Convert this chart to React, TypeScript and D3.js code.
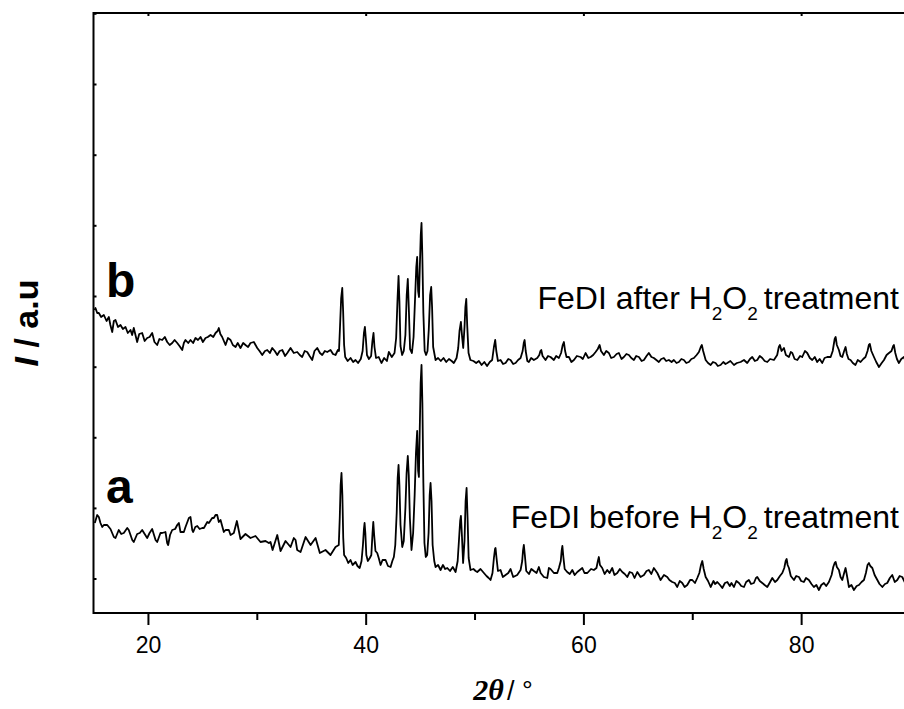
import { useEffect, useRef } from 'react'
import * as d3 from 'd3'

const W = 904
const H = 709
const SANS = 'Liberation Sans, Arial, Helvetica, sans-serif'
const SERIF = 'Liberation Serif, Times New Roman, serif'

// sample a: FeDI before H2O2 treatment (2θ in degrees, intensity in a.u.)
const angleA = [
  15.12, 15.34, 15.49, 15.64, 15.8, 15.95, 16.26, 16.56, 16.87, 17.02, 17.32, 17.55, 17.78, 18.1, 18.24,
  18.56, 18.7, 19.01, 19.25, 19.47, 19.7, 19.93, 20.15, 20.39, 20.7, 20.85, 21.15, 21.31, 21.61, 21.77,
  21.86, 22.03, 22.23, 22.5, 22.69, 22.84, 22.99, 23.3, 23.45, 23.76, 23.91, 24.07, 24.16, 24.35, 24.53,
  24.75, 24.99, 25.14, 25.45, 25.6, 25.9, 26.05, 26.21, 26.36, 26.51, 26.67, 26.97, 27.13, 27.43, 27.59,
  27.89, 28.17, 28.5, 28.96, 29.42, 29.88, 30.34, 30.8, 31.1, 31.26, 31.45, 31.88, 32.18, 32.64, 33.1,
  33.4, 33.56, 33.71, 34.02, 34.48, 34.94, 35.4, 35.79, 36.31, 36.77, 37.23, 37.53, 37.62, 37.7, 37.78,
  37.86, 37.94, 38.02, 38.21, 38.4, 38.61, 38.8, 39.07, 39.25, 39.45, 39.62, 39.75, 39.84, 39.9, 39.97,
  40.06, 40.2, 40.38, 40.52, 40.63, 40.7, 40.78, 40.9, 41.06, 41.2, 41.37, 41.55, 41.83, 42.05, 42.29,
  42.45, 42.59, 42.72, 42.85, 42.94, 43.02, 43.1, 43.2, 43.36, 43.5, 43.65, 43.76, 43.87, 43.96, 44.06,
  44.21, 44.36, 44.5, 44.62, 44.73, 44.82, 44.89, 44.97, 45.05, 45.13, 45.21, 45.3, 45.4, 45.52, 45.65,
  45.78, 45.88, 45.96, 46.05, 46.15, 46.3, 46.42, 46.65, 46.88, 47.1, 47.3, 47.5, 47.75, 48.0, 48.26,
  48.45, 48.6, 48.68, 48.75, 48.84, 48.95, 49.08, 49.18, 49.27, 49.36, 49.46, 49.63, 49.9, 50.1, 50.25,
  50.55, 50.86, 51.1, 51.3, 51.47, 51.65, 51.78, 51.88, 51.93, 52.02, 52.15, 52.39, 52.6, 52.85, 53.1,
  53.31, 53.55, 53.92, 54.23, 54.38, 54.45, 54.53, 54.62, 54.75, 55.0, 55.22, 55.45, 55.7, 55.91, 56.07,
  56.37, 56.68, 56.83, 56.98, 57.29, 57.6, 57.75, 57.92, 58.0, 58.07, 58.16, 58.28, 58.51, 58.75, 58.98,
  59.2, 59.44, 59.9, 60.1, 60.36, 60.7, 60.96, 61.2, 61.33, 61.42, 61.52, 61.73, 61.95, 62.19, 62.4,
  62.65, 62.85, 63.11, 63.35, 63.57, 63.8, 64.03, 64.25, 64.49, 64.7, 64.95, 65.25, 65.56, 65.8, 66.01,
  66.24, 66.47, 66.79, 67.09, 67.4, 67.7, 67.9, 68.16, 68.4, 68.62, 68.85, 69.08, 69.3, 69.54, 69.8,
  70.0, 70.25, 70.46, 70.65, 70.8, 70.92, 71.05, 71.23, 71.45, 71.69, 71.95, 72.1, 72.3, 72.55, 72.76,
  73.0, 73.22, 73.45, 73.6, 73.83, 74.05, 74.29, 74.5, 74.75, 74.95, 75.2, 75.4, 75.66, 75.85, 75.97,
  76.2, 76.43, 76.65, 76.89, 77.1, 77.35, 77.6, 77.81, 78.05, 78.27, 78.45, 78.58, 78.67, 78.76, 78.88,
  79.05, 79.34, 79.55, 79.8, 80.0, 80.25, 80.45, 80.71, 80.95, 81.17, 81.4, 81.63, 81.85, 82.09, 82.3,
  82.55, 82.8, 82.95, 83.08, 83.17, 83.28, 83.47, 83.62, 83.78, 83.95, 84.08, 84.2, 84.39, 84.62, 84.85,
  85.1, 85.31, 85.55, 85.77, 85.95, 86.1, 86.23, 86.35, 86.54, 86.75, 87.0, 87.2, 87.46, 87.7, 87.91,
  88.15, 88.37, 88.6, 88.83, 89.05, 89.29, 89.55, 89.8, 90.0,
]
const intensA = [
  90, 98, 96, 90, 86, 88, 88, 84, 76, 75, 83, 79, 80, 85, 83,
  73, 71, 79, 80, 83, 79, 75, 80, 84, 73, 71, 80, 80, 81, 70,
  68, 78, 83, 84, 88, 90, 81, 81, 86, 95, 96, 83, 81, 86, 87,
  84, 85, 85, 91, 90, 95, 95, 98, 98, 91, 93, 81, 83, 83, 78,
  80, 92, 74, 79, 75, 77, 71, 72, 70, 71, 63, 78, 62, 72, 66,
  75, 73, 63, 61, 76, 68, 75, 60, 63, 58, 66, 68, 95, 128, 140,
  118, 75, 58, 55, 50, 53, 48, 51, 47, 45, 52, 68, 84, 90, 80,
  58, 52, 55, 58, 80, 91, 78, 62, 60, 55, 48, 53, 53, 47, 46,
  52, 56, 68, 100, 135, 148, 128, 88, 66, 72, 105, 140, 157, 138, 95,
  63, 80, 118, 160, 182, 142, 136, 185, 230, 248, 210, 130, 70, 56, 58,
  80, 118, 130, 112, 68, 52, 46, 48, 43, 48, 44, 45, 42, 46, 41,
  52, 78, 92, 97, 78, 50, 72, 112, 125, 95, 55, 43, 44, 42, 41,
  44, 40, 37, 35, 33, 40, 55, 64, 65, 55, 42, 43, 36, 38, 40,
  44, 36, 38, 43, 52, 62, 68, 58, 42, 39, 44, 42, 40, 46, 40,
  36, 35, 45, 44, 40, 40, 45, 52, 62, 67, 56, 44, 41, 39, 43,
  38, 41, 45, 40, 40, 44, 43, 45, 52, 56, 48, 45, 39, 43, 40,
  45, 38, 40, 44, 41, 39, 36, 41, 40, 35, 41, 36, 38, 42, 43,
  39, 45, 40, 33, 38, 36, 33, 31, 30, 26, 32, 30, 26, 28, 33,
  33, 30, 35, 40, 48, 52, 44, 36, 32, 26, 32, 29, 31, 28, 25,
  30, 31, 27, 30, 26, 32, 30, 27, 26, 31, 33, 29, 30, 35, 36,
  32, 30, 28, 26, 30, 35, 31, 33, 37, 40, 45, 52, 54, 48, 45,
  37, 33, 37, 36, 32, 31, 35, 33, 29, 26, 28, 23, 28, 30, 27,
  31, 38, 46, 50, 51, 46, 43, 36, 33, 40, 45, 38, 26, 28, 23,
  27, 28, 31, 33, 40, 48, 50, 47, 45, 38, 33, 29, 26, 29, 30,
  35, 38, 31, 33, 37, 36, 30, 33, 35,
]

// sample b: FeDI after H2O2 treatment
const angleB = [
  15.1, 15.18, 15.34, 15.49, 15.7, 15.95, 16.2, 16.41, 16.55, 16.72, 16.87, 17.02, 17.25, 17.48, 17.7,
  17.94, 18.15, 18.4, 18.55, 18.7, 19.01, 19.2, 19.47, 19.7, 19.93, 20.15, 20.39, 20.6, 20.85, 21.05,
  21.31, 21.55, 21.77, 22.0, 22.23, 22.45, 22.69, 22.9, 23.15, 23.3, 23.45, 23.7, 23.91, 24.15, 24.37,
  24.6, 24.83, 25.05, 25.29, 25.5, 25.75, 26.0, 26.21, 26.4, 26.51, 26.65, 26.82, 27.13, 27.35, 27.59,
  27.8, 28.05, 28.25, 28.5, 28.75, 28.96, 29.2, 29.42, 29.73, 30.04, 30.25, 30.5, 30.75, 30.96, 31.2,
  31.42, 31.65, 31.88, 32.1, 32.34, 32.6, 32.8, 33.1, 33.4, 33.71, 33.95, 34.17, 34.4, 34.63, 34.85,
  35.09, 35.3, 35.55, 35.8, 36.01, 36.25, 36.47, 36.77, 37.0, 37.23, 37.45, 37.55, 37.65, 37.75, 37.85,
  37.93, 38.02, 38.12, 38.35, 38.61, 38.85, 39.07, 39.3, 39.55, 39.72, 39.84, 39.93, 40.02, 40.12, 40.3,
  40.5, 40.62, 40.72, 40.81, 40.95, 41.2, 41.45, 41.7, 41.95, 42.13, 42.4, 42.65, 42.8, 42.93, 43.02,
  43.1, 43.2, 43.35, 43.5, 43.65, 43.77, 43.87, 43.96, 44.08, 44.25, 44.4, 44.55, 44.65, 44.73, 44.82,
  44.9, 44.98, 45.06, 45.13, 45.2, 45.3, 45.42, 45.55, 45.68, 45.8, 45.92, 46.02, 46.1, 46.2, 46.42,
  46.65, 46.9, 47.15, 47.4, 47.65, 47.9, 48.1, 48.35, 48.5, 48.62, 48.75, 48.86, 48.96, 49.08, 49.16,
  49.24, 49.33, 49.45, 49.62, 49.9, 50.15, 50.4, 50.65, 50.9, 51.15, 51.4, 51.62, 51.78, 51.9, 52.0,
  52.15, 52.39, 52.62, 52.85, 53.1, 53.31, 53.55, 53.77, 54.0, 54.23, 54.42, 54.52, 54.6, 54.7, 54.85,
  54.99, 55.2, 55.45, 55.76, 55.95, 56.05, 56.13, 56.25, 56.52, 56.75, 56.98, 57.29, 57.5, 57.75, 57.95,
  58.1, 58.21, 58.32, 58.45, 58.67, 58.9, 59.13, 59.4, 59.74, 59.95, 60.2, 60.45, 60.66, 60.9, 61.12,
  61.32, 61.49, 61.62, 61.88, 62.1, 62.34, 62.55, 62.8, 63.05, 63.26, 63.5, 63.72, 63.95, 64.18, 64.4,
  64.64, 64.85, 65.1, 65.35, 65.56, 65.8, 66.01, 66.25, 66.47, 66.7, 66.93, 67.15, 67.39, 67.6, 67.85,
  68.1, 68.31, 68.55, 68.77, 69.0, 69.23, 69.45, 69.69, 69.92, 70.15, 70.4, 70.61, 70.78, 70.88, 71.0,
  71.23, 71.45, 71.69, 71.9, 72.14, 72.35, 72.6, 72.85, 73.05, 73.22, 73.5, 73.83, 74.1, 74.44, 74.75,
  75.05, 75.3, 75.51, 75.75, 75.97, 76.2, 76.43, 76.65, 76.89, 77.15, 77.5, 77.8, 77.95, 78.05, 78.2,
  78.42, 78.6, 78.88, 79.05, 79.19, 79.4, 79.65, 79.9, 80.1, 80.35, 80.56, 80.8, 81.02, 81.25, 81.48,
  81.7, 81.94, 82.15, 82.4, 82.71, 82.9, 83.08, 83.17, 83.28, 83.47, 83.62, 83.78, 83.95, 84.08, 84.2,
  84.35, 84.54, 84.75, 84.99, 85.2, 85.46, 85.7, 85.91, 86.1, 86.22, 86.31, 86.45, 86.69, 86.9, 87.15,
  87.4, 87.61, 87.85, 88.07, 88.3, 88.45, 88.52, 88.65, 88.8, 88.98, 89.2, 89.44, 89.65, 89.85, 90.0,
]
const intensB = [
  303, 305, 300, 300, 296, 298, 292, 296, 288, 281, 292, 293, 286, 288, 284,
  286, 280, 283, 278, 285, 271, 279, 280, 272, 275, 276, 280, 271, 268, 274,
  273, 276, 271, 268, 270, 273, 270, 267, 263, 270, 273, 270, 273, 270, 275,
  273, 276, 271, 275, 276, 278, 276, 280, 282, 285, 279, 276, 268, 275, 273,
  268, 266, 270, 265, 270, 268, 266, 270, 271, 265, 262, 258, 262, 263, 260,
  265, 262, 258, 262, 263, 257, 260, 265, 260, 261, 258, 256, 262, 261, 257,
  253, 262, 265, 260, 258, 262, 261, 263, 259, 258, 263, 262, 288, 315, 325,
  302, 268, 256, 252, 255, 251, 253, 250, 254, 262, 280, 286, 274, 258, 254,
  257, 272, 280, 266, 255, 256, 250, 255, 252, 261, 256, 260, 275, 315, 337,
  312, 267, 258, 262, 278, 318, 334, 306, 264, 260, 276, 318, 346, 356, 322,
  316, 348, 378, 390, 360, 300, 262, 258, 262, 284, 318, 326, 306, 266, 253,
  255, 252, 255, 251, 254, 252, 250, 255, 265, 282, 291, 276, 265, 286, 306,
  314, 287, 260, 253, 252, 250, 252, 248, 251, 247, 251, 253, 266, 273, 262,
  252, 253, 249, 250, 254, 253, 249, 250, 253, 255, 262, 270, 273, 262, 252,
  251, 255, 253, 255, 258, 262, 263, 257, 253, 257, 256, 253, 257, 255, 260,
  268, 271, 262, 256, 256, 251, 253, 257, 256, 254, 260, 255, 256, 258, 261,
  264, 268, 262, 258, 262, 260, 255, 256, 259, 260, 254, 256, 259, 258, 255,
  253, 257, 256, 252, 253, 257, 260, 256, 255, 253, 251, 254, 255, 252, 253,
  251, 253, 250, 251, 254, 253, 250, 251, 254, 255, 258, 261, 266, 268, 262,
  253, 250, 248, 251, 250, 247, 248, 251, 249, 250, 252, 248, 250, 251, 253,
  250, 254, 256, 252, 253, 257, 255, 252, 251, 254, 253, 258, 266, 268, 262,
  265, 258, 256, 261, 260, 254, 253, 257, 256, 262, 260, 255, 253, 256, 251,
  254, 250, 255, 256, 256, 262, 274, 276, 268, 263, 257, 256, 262, 266, 259,
  254, 253, 250, 248, 253, 251, 254, 256, 262, 268, 269, 262, 256, 251, 246,
  250, 253, 258, 260, 262, 267, 268, 260, 254, 250, 254, 256, 250, 247, 255,
]

const xMajorTicks = [20, 40, 60, 80]
const xMinorTicks = [30, 50, 70]
const yTicks = [34.5, 105.1, 175.7, 246.3, 317, 387.7, 458.3, 529, 599.7]

export default function App() {
  const svgRef = useRef(null)

  useEffect(() => {
    if (!svgRef.current) return
    const svg = d3.select(svgRef.current)
    svg.selectAll('*').remove()

    const x = d3.scaleLinear().domain([15, 90]).range([93.5, 910])
    const y = d3.scaleLinear().domain([0, 600]).range([613, 13])

    const line = d3.line()
      .x(d => x(d[0]))
      .y(d => y(d[1]))

    const series = [
      d3.zip(angleA, intensA),
      d3.zip(angleB, intensB),
    ]

    // Traces
    series.forEach(s => {
      svg.append('path')
        .datum(s)
        .attr('d', line)
        .attr('fill', 'none')
        .attr('stroke', '#000')
        .attr('stroke-width', 1.8)
        .attr('stroke-linejoin', 'round')
    })

    // Frame (right edge falls outside the picture)
    svg.append('rect')
      .attr('x', x.range()[0]).attr('y', y.range()[1])
      .attr('width', x.range()[1] - x.range()[0])
      .attr('height', y.range()[0] - y.range()[1])
      .attr('fill', 'none')
      .attr('stroke', '#000')
      .attr('stroke-width', 2)

    const styleAxis = ax => {
      ax.select('.domain').remove()
      ax.selectAll('.tick line').attr('stroke', '#000').attr('stroke-width', 2)
    }

    // Bottom axis, major ticks with labels
    svg.append('g')
      .attr('transform', `translate(0,${y.range()[0]})`)
      .call(d3.axisBottom(x).tickValues(xMajorTicks).tickSize(12).tickPadding(12).tickFormat(d3.format('d')))
      .call(styleAxis)
      .call(ax => ax.selectAll('text')
        .attr('fill', '#000')
        .attr('font-family', SANS)
        .attr('font-size', '23px'))

    // Bottom axis, minor ticks
    svg.append('g')
      .attr('transform', `translate(0,${y.range()[0]})`)
      .call(d3.axisBottom(x).tickValues(xMinorTicks).tickSize(7).tickFormat(() => ''))
      .call(styleAxis)

    // Top axis, small inward ticks
    svg.append('g')
      .attr('transform', `translate(0,${y.range()[1]})`)
      .call(d3.axisTop(x).tickValues(xMajorTicks).tickSize(-3).tickFormat(() => ''))
      .call(styleAxis)

    // Left axis, inward ticks, no labels
    svg.append('g')
      .attr('transform', `translate(${x.range()[0]},0)`)
      .call(d3.axisLeft(y).tickValues(yTicks).tickSize(-3).tickFormat(() => ''))
      .call(styleAxis)

    // X title
    const xt = svg.append('text')
      .attr('x', 503).attr('y', 700)
      .attr('text-anchor', 'middle')
      .attr('fill', '#000')
    xt.append('tspan')
      .attr('font-family', SERIF)
      .attr('font-style', 'italic')
      .attr('font-weight', 'bold')
      .attr('font-size', '30px')
      .text('2θ')
    xt.append('tspan')
      .attr('dx', 3)
      .attr('font-family', SANS)
      .attr('font-size', '27px')
      .text('/ °')

    // Y title
    const yt = svg.append('text')
      .attr('transform', 'translate(38,323) rotate(-90)')
      .attr('text-anchor', 'middle')
      .attr('font-family', SANS)
      .attr('font-weight', 'bold')
      .attr('font-size', '34px')
      .attr('fill', '#000')
    yt.append('tspan').attr('font-style', 'italic').text('I')
    yt.append('tspan').text(' / a.u')

    // Sample letters
    const letters = [
      { t: 'b', px: 106, py: 297 },
      { t: 'a', px: 106, py: 503 },
    ]
    letters.forEach(l => {
      svg.append('text')
        .attr('x', l.px).attr('y', l.py)
        .attr('font-family', SANS)
        .attr('font-weight', 'bold')
        .attr('font-size', '48px')
        .attr('fill', '#000')
        .text(l.t)
    })

    // Sample descriptions with subscripts
    const notes = [
      { pre: 'FeDI after H', py: 308.5 },
      { pre: 'FeDI before H', py: 528 },
    ]
    notes.forEach(n => {
      const t = svg.append('text')
        .attr('x', 899).attr('y', n.py)
        .attr('text-anchor', 'end')
        .attr('font-family', SANS)
        .attr('font-size', '32px')
        .attr('fill', '#000')
      t.append('tspan').text(n.pre)
      t.append('tspan').attr('dy', 11).attr('font-size', '19px').text('2')
      t.append('tspan').attr('dy', -11).text('O')
      t.append('tspan').attr('dy', 11).attr('font-size', '19px').text('2')
      t.append('tspan').attr('dy', -11).attr('dx', 6).text('treatment')
    })
  }, [])

  return (
    <svg
      ref={svgRef}
      width={W}
      height={H}
      style={{ position: 'absolute', left: 0, top: 0, display: 'block', background: '#fff' }}
    />
  )
}
